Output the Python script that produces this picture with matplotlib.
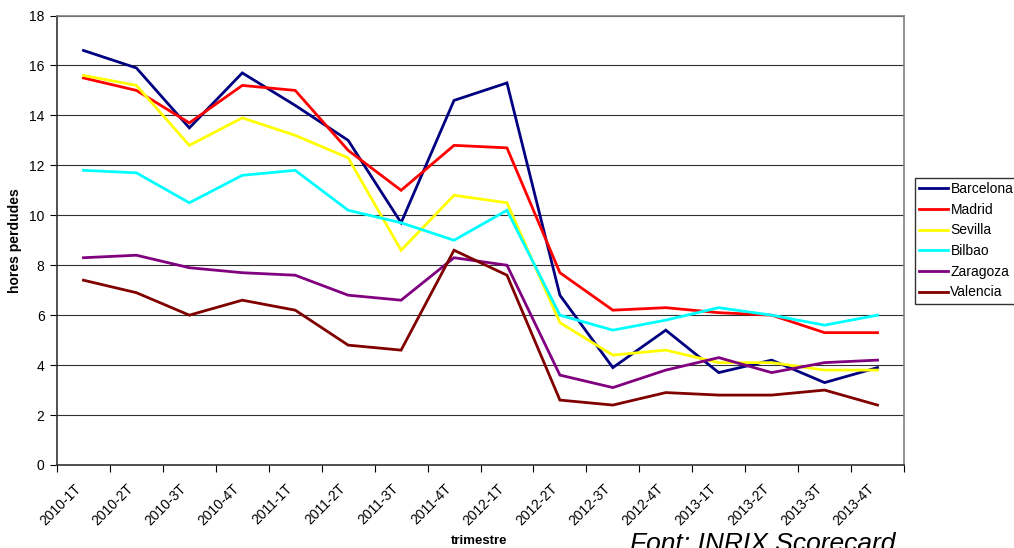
import matplotlib
matplotlib.use("Agg")
import matplotlib.pyplot as plt
import numpy as np

plt.rcParams['font.family'] = ['Liberation Sans', 'DejaVu Sans']

categories = ["2010-1T", "2010-2T", "2010-3T", "2010-4T", "2011-1T", "2011-2T",
              "2011-3T", "2011-4T", "2012-1T", "2012-2T", "2012-3T", "2012-4T",
              "2013-1T", "2013-2T", "2013-3T", "2013-4T"]

barcelona = [16.6, 15.9, 13.5, 15.7, 14.4, 13.0, 9.7, 14.6, 15.3, 6.8, 3.9, 5.4, 3.7, 4.2, 3.3, 3.9]
madrid    = [15.5, 15.0, 13.7, 15.2, 15.0, 12.6, 11.0, 12.8, 12.7, 7.7, 6.2, 6.3, 6.1, 6.0, 5.3, 5.3]
sevilla   = [15.6, 15.2, 12.8, 13.9, 13.2, 12.3, 8.6, 10.8, 10.5, 5.7, 4.4, 4.6, 4.1, 4.1, 3.8, 3.8]
bilbao    = [11.8, 11.7, 10.5, 11.6, 11.8, 10.2, 9.7, 9.0, 10.2, 6.0, 5.4, 5.8, 6.3, 6.0, 5.6, 6.0]
zaragoza  = [8.3, 8.4, 7.9, 7.7, 7.6, 6.8, 6.6, 8.3, 8.0, 3.6, 3.1, 3.8, 4.3, 3.7, 4.1, 4.2]
valencia  = [7.4, 6.9, 6.0, 6.6, 6.2, 4.8, 4.6, 8.6, 7.6, 2.6, 2.4, 2.9, 2.8, 2.8, 3.0, 2.4]

series_names = ["Barcelona", "Madrid", "Sevilla", "Bilbao", "Zaragoza", "Valencia"]
series_values = [barcelona, madrid, sevilla, bilbao, zaragoza, valencia]
series_colors = ["#000080", "#FF0000", "#FFFF00", "#00FFFF", "#800080", "#800000"]

W, H = 1014, 548
fig = plt.figure(figsize=(W / 100, H / 100), dpi=100)
ax = fig.add_axes([57 / W, (H - 465) / H, (904 - 57) / W, (465 - 15.5) / H])

n = len(categories)
x = np.arange(n) + 0.5
for name, vals, col in zip(series_names, series_values, series_colors):
    ax.plot(x, vals, color=col, lw=2, label=name, solid_joinstyle='miter')

ax.set_xlim(0, n)
ax.set_ylim(0, 18)
ax.set_yticks(np.arange(0, 19, 2))
ax.yaxis.grid(True, color='#303030', lw=0.8)
ax.set_axisbelow(True)

ax.set_xticks(np.arange(0, n + 1))
ax.set_xticklabels([])
ax.set_xticks(x, minor=True)
ax.set_xticklabels(categories, minor=True, rotation=45, ha='right', fontsize=10)
ax.tick_params(axis='x', which='minor', length=0, pad=12)
ax.tick_params(axis='x', which='major', length=5, direction='out', color='black')
ax.tick_params(axis='y', length=5, direction='out', labelsize=10, pad=4)

for s in ['top', 'right']:
    ax.spines[s].set_color('#808080')
    ax.spines[s].set_linewidth(1.2)
for s in ['left', 'bottom']:
    ax.spines[s].set_color('#333333')
    ax.spines[s].set_linewidth(1.2)

ax.set_ylabel('hores perdudes', fontsize=10, fontweight='bold')
ax.yaxis.set_label_coords(-35 / (904 - 57), 0.5)
fig.text(479 / W, 1 - 541 / H, 'trimestre', fontsize=9.5, fontweight='bold',
         ha='center', va='center')
fig.text(630 / W, 1 - 551 / H, 'Font: INRIX Scorecard', fontsize=19,
         fontstyle='italic', ha='left', va='baseline')

leg = fig.legend(loc='upper left', bbox_to_anchor=(915 / W, 1 - 178 / H),
                 bbox_transform=fig.transFigure, borderaxespad=0,
                 fontsize=10, frameon=True, fancybox=False, edgecolor='black',
                 handlelength=2.1, handletextpad=0.15, labelspacing=0.48,
                 borderpad=0.3)
leg.get_frame().set_linewidth(1)

fig.savefig('out.png', dpi=100)
